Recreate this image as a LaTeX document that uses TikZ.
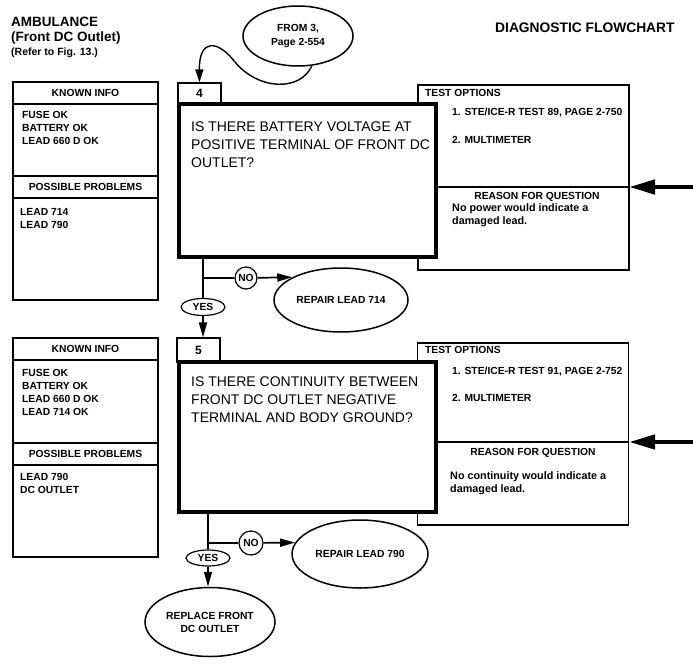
\documentclass[tikz,border=0pt]{standalone}
\usepackage{fontspec}
\setmainfont{Liberation Sans}
\usetikzlibrary{arrows.meta,positioning,calc,shapes.geometric}
\newcommand{\sheetfont}{\fontsize{13.5}{16}\selectfont\bfseries}
\newcommand{\itemfont}{\fontsize{10.3}{13}\selectfont\bfseries}
\newcommand{\whyfont}{\fontsize{10.8}{13}\selectfont\bfseries}
\newcommand{\askfont}{\fontsize{14}{18}\selectfont}
\newcommand{\tagfont}{\fontsize{10.3}{12}\selectfont\bfseries}

\begin{document}
\begin{tikzpicture}[x=1pt,y=-1pt,
    boxframe/.style={draw,line width=1.2pt,inner sep=0pt,outer sep=0pt,minimum width=145pt},
    boxhead/.style={boxframe,minimum height=22pt,font=\itemfont},
    listtext/.style={anchor=north west,align=left,inner sep=0pt,font=\itemfont},
    stepnum/.style={draw,line width=1.2pt,minimum width=43pt,inner sep=0pt,font=\fontsize{12}{14}\selectfont\bfseries},
    askbox/.style={draw,line width=4pt,fill=white,minimum width=257pt,inner sep=0pt},
    asktext/.style={anchor=north west,align=left,inner sep=0pt,font=\askfont},
    optsbox/.style={draw,line width=1.2pt,minimum width=211pt,inner sep=0pt},
    optline/.style={anchor=west,inner sep=0pt,font=\itemfont},
    outcome/.style={draw,ellipse,line width=1.5pt,inner sep=0pt,align=center,font=\fontsize{10.3}{13}\selectfont\bfseries},
    reply/.style={draw,ellipse,line width=1.2pt,inner sep=0pt,font=\tagfont},
    flowline/.style={line width=1.7pt},
    feedarrow/.style={line width=4.5pt,-{Triangle[length=26pt,width=14pt]}},
    >={Triangle[length=15pt,width=8pt]}
  ]
  \useasboundingbox (0,0) rectangle (693,666);

  % sheet titles
  \node[anchor=base west,inner sep=0pt,font=\sheetfont] (unit) at (11,27) {AMBULANCE};
  \node[anchor=base west,inner sep=0pt,font=\sheetfont] (part) at (11,42) {(Front DC Outlet)};
  \node[anchor=base west,inner sep=0pt,font=\fontsize{10.5}{12}\selectfont\bfseries] (figref) at (11,56) {(Refer to Fig. 13.)};
  \node[anchor=base west,inner sep=0pt,font=\fontsize{13.8}{16}\selectfont\bfseries] (sheet) at (495,33) {DIAGNOSTIC FLOWCHART};
  \node[outcome,minimum width=110pt,minimum height=60pt,font=\fontsize{10.3}{14}\selectfont\bfseries] (src) at (298,36) {FROM 3,\\Page 2-554};

  % step 4
  \node[boxhead] (known4) at (85.5,93) {KNOWN INFO};
  \node[boxframe,minimum height=72pt,below=0pt of known4] (knownbox4) {};
  \node[boxhead,below=0pt of knownbox4] (probs4) {POSSIBLE PROBLEMS};
  \node[boxframe,minimum height=102pt,below=0pt of probs4] (probsbox4) {};
  \node[listtext] (knownlist4) at (22,111.3) {FUSE OK\\BATTERY OK\\LEAD 660 D OK};
  \node[listtext] (probslist4) at (20,208.3) {LEAD 714\\LEAD 790};

  \node[optsbox,minimum height=185pt] (opts4) at (523.5,177.5) {};
  \node[askbox,minimum height=153pt] (ask4) at (307.5,180.5) {};
  \node[asktext] (q4) at (191,122) {IS THERE BATTERY VOLTAGE AT\\POSITIVE TERMINAL OF FRONT DC\\OUTLET?};
  \node[stepnum,minimum height=21pt] (num4) at (199.5,93.5) {4};
  \coordinate (div4) at (629,187);
  \draw[line width=1.2pt] (div4) -- (div4 -| ask4.east);
  \node[optline] (optttl4) at (425,93) {TEST OPTIONS};
  \node[optline] (opta4) at (452,113) {1. STE/ICE-R TEST 89, PAGE 2-750};
  \node[optline] (optb4) at (452,140) {2. MULTIMETER};
  \node[inner sep=0pt,font=\itemfont] (why4) at (537,197) {REASON FOR QUESTION};
  \node[listtext,font=\whyfont] (whytext4) at (452,203.3) {No power would indicate a\\damaged lead.};
  \coordinate (feed4) at (693,187);
  \draw[feedarrow] (feed4) -- (div4);

  \draw[line width=1.4pt,-{Triangle[length=13pt,width=8pt]}] (src.-65) .. controls (300,92) and (258,90) .. (235,62)
    .. controls (218,40) and (199,38) .. (num4.north);

  \coordinate (split4) at (203,278);
  \node[reply,circle,minimum size=22pt] (no4) at (246,278) {NO};
  \node[reply,minimum width=44pt,minimum height=17pt] (yes4) at (203,307) {YES};
  \node[outcome,minimum width=134pt,minimum height=64pt] (fix714) at (341,300) {REPAIR LEAD 714};
  \draw[flowline] (ask4.south -| split4) -- (yes4);
  \draw[flowline] (split4) -- (no4);
  \draw[flowline,->] (no4) -- (fix714.155);

  % step 5
  \node[boxhead] (known5) at (85.5,349) {KNOWN INFO};
  \node[boxframe,minimum height=83pt,below=0pt of known5] (knownbox5) {};
  \node[boxhead,below=0pt of knownbox5] (probs5) {POSSIBLE PROBLEMS};
  \node[boxframe,minimum height=92pt,below=0pt of probs5] (probsbox5) {};
  \node[listtext] (knownlist5) at (22,369.3) {FUSE OK\\BATTERY OK\\LEAD 660 D OK\\LEAD 714 OK};
  \node[listtext] (probslist5) at (20,473.3) {LEAD 790\\DC OUTLET};

  \node[optsbox,minimum height=182pt] (opts5) at (523,434) {};
  \node[askbox,minimum height=150pt] (ask5) at (307,437) {};
  \node[asktext] (q5) at (191,377) {IS THERE CONTINUITY BETWEEN\\FRONT DC OUTLET NEGATIVE\\TERMINAL AND BODY GROUND?};
  \node[stepnum,minimum height=24pt] (num5) at (198.5,350) {5};
  \coordinate (div5) at (629,442);
  \draw[line width=1.2pt] (div5) -- (div5 -| ask5.east);
  \node[optline] (optttl5) at (425,350) {TEST OPTIONS};
  \node[optline] (opta5) at (452,372) {1. STE/ICE-R TEST 91, PAGE 2-752};
  \node[optline] (optb5) at (452,398) {2. MULTIMETER};
  \node[inner sep=0pt,font=\itemfont] (why5) at (533,453) {REASON FOR QUESTION};
  \node[listtext,font=\whyfont] (whytext5) at (450,471.3) {No continuity would indicate a\\damaged lead.};
  \coordinate (feed5) at (693,442);
  \draw[feedarrow] (feed5) -- (div5);

  \draw[flowline,->] (yes4) -- (yes4 |- num5.north);

  \coordinate (split5) at (208,543);
  \node[reply,circle,minimum size=24pt] (no5) at (251,543) {NO};
  \node[reply,minimum width=44pt,minimum height=16pt] (yes5) at (208,558) {YES};
  \node[outcome,minimum width=136pt,minimum height=68pt] (fix790) at (360,554) {REPAIR LEAD 790};
  \node[outcome,minimum width=130pt,minimum height=69pt] (swap) at (210,622) {REPLACE FRONT\\DC OUTLET};
  \draw[flowline] (ask5.south -| split5) -- (yes5);
  \draw[flowline] (split5) -- (no5);
  \draw[flowline,->] (no5) -- (fix790.170);
  \draw[flowline,->] (yes5) -- (yes5 |- swap.north);
\end{tikzpicture}
\end{document}
